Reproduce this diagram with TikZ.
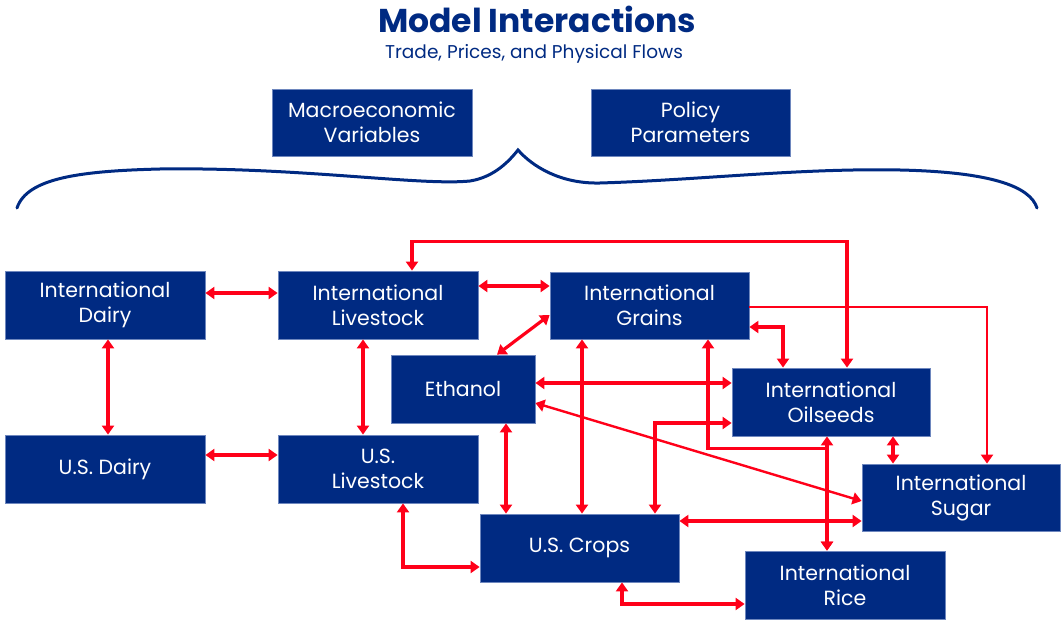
\documentclass[tikz,border=0pt]{standalone}
\usepackage{fontspec}
\setmainfont{Poppins}
\usepackage{xcolor}
\usetikzlibrary{positioning}
\usetikzlibrary{arrows.meta}
\definecolor{boxblue}{RGB}{0,42,130}
\definecolor{edgeblue}{RGB}{110,135,190}
\definecolor{linkred}{RGB}{255,0,25}

\begin{document}
\begin{tikzpicture}[x=1pt,y=-1pt,
    block/.style={draw=edgeblue, line width=0.8pt, fill=boxblue, text=white,
        align=center, inner sep=0pt,
        font=\fontsize{20.5}{25}\selectfont},
    link/.style={linkred, line width=3.2pt,
        {Triangle[length=9pt,width=12pt]}-{Triangle[length=9pt,width=12pt]}},
    thinlink/.style={link, line width=2.4pt},
    oneway/.style={linkred, line width=2.4pt, -{Triangle[length=9pt,width=12pt]}}]
\useasboundingbox (0,0) rectangle (1064,620);

% Title
\node[text=boxblue, font=\fontsize{33}{38}\selectfont\bfseries] (title) at (537,19) {Model Interactions};
\node[text=boxblue, font=\fontsize{18.5}{22}\selectfont] (subtitle) at (534,54) {Trade, Prices, and Physical Flows};

% Inputs on top
\node[block, minimum width=200pt, minimum height=67pt] (macro) at (372,122.5) {Macroeconomic\\Variables};
\node[block, minimum width=199pt, minimum height=67pt] (policy) at (690.5,122.5) {Policy\\Parameters};

% Brace
\draw[boxblue, line width=3pt, line cap=round]
    (17,208) .. controls (27,178) and (80,171) .. (160,169)
    .. controls (300,167) and (420,186) .. (470,181)
    .. controls (495,177) and (510,160) .. (518,150)
    .. controls (532,166) and (560,184) .. (600,183)
    .. controls (700,180) and (800,168) .. (900,170)
    .. controls (990,172) and (1030,186) .. (1037,208);

% Livestock and dairy
\node[block, minimum width=200pt, minimum height=68pt] (idairy) at (105,305) {International\\Dairy};
\node[block, minimum width=200pt, minimum height=68pt] (ilive) at (378,305) {International\\Livestock};
\node[block, minimum width=200pt, minimum height=68pt] (udairy) at (105,469) {U.S. Dairy};
\node[block, minimum width=200pt, minimum height=68pt] (ulive) at (378,469) {U.S.\\Livestock};

% Crops
\node[block, minimum width=144pt, minimum height=68pt] (ethanol) at (463,389) {Ethanol};
\node[block, minimum width=199pt, minimum height=67pt] (igrains) at (649.5,305.5) {International\\Grains};
\node[block, minimum width=198pt, minimum height=68pt] (ioil) at (831,402) {International\\Oilseeds};
\node[block, minimum width=198pt, minimum height=67pt] (isugar) at (961,497.5) {International\\Sugar};
\node[block, minimum width=199pt, minimum height=68pt] (ucrops) at (579.5,548) {U.S. Crops};
\node[block, minimum width=200pt, minimum height=68pt] (irice) at (845,585) {International\\Rice};

% Links
\draw[link] ([yshift=12]idairy.east) -- ([yshift=12]ilive.west);
\draw[link] ([xshift=3]idairy.south) -- ([xshift=3]udairy.north);
\draw[link] ([yshift=14]udairy.east) -- ([yshift=14]ulive.west);
\draw[link] ([xshift=-15]ilive.south) -- ([xshift=-15]ulive.north);
\draw[link] ([yshift=19]ilive.east) -- ([yshift=19.5]igrains.west);
\draw[link] ([yshift=-9.5]igrains.west) -- ([xshift=34]ethanol.north);
\draw[link] ([xshift=16]ioil.north) -- ++(0,-126) -| ([xshift=34]ilive.north);
\draw[oneway] ([yshift=-1.5]igrains.east) -| ([xshift=26]isugar.north);
\draw[link] ([yshift=-21.5]igrains.east) -| ([xshift=-48]ioil.north);
\draw[link] ([yshift=6]ethanol.east) -- ([yshift=19]ioil.west);
\draw[thinlink] ([yshift=-14]ethanol.east) -- ([yshift=-3.5]isugar.west);
\draw[link] ([xshift=43]ethanol.south) -- ([xshift=-73.5]ucrops.north);
\draw[link] ([xshift=-67.5]igrains.south) -- ([xshift=2.5]ucrops.north);
\draw[link] ([yshift=-21]ioil.west) -| ([xshift=75.5]ucrops.north);
\draw[link] ([xshift=58.5]igrains.south) -- ++(0,109) -| ([xshift=-18]irice.north);
\draw[link] ([xshift=-4]ioil.south) -- ([xshift=-18]irice.north);
\draw[link] ([xshift=62]ioil.south) -- ([xshift=-68]isugar.north);
\draw[link] ([yshift=27]ucrops.east) -- ([yshift=-23.5]isugar.west);
\draw[link] ([xshift=25]ulive.south) |- ([yshift=-19]ucrops.west);
\draw[link] ([xshift=42.5]ucrops.south) |- ([yshift=-19]irice.west);

\end{tikzpicture}
\end{document}
